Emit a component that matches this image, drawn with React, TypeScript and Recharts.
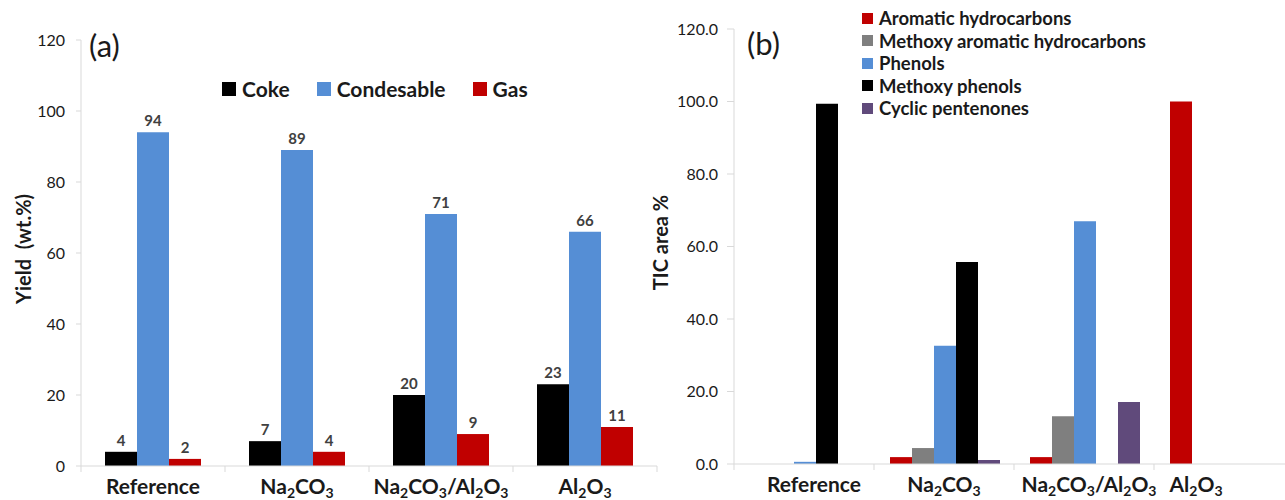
import { Bar, BarChart, LabelList, Legend, XAxis, YAxis } from "recharts";

const catalysts = ["Reference", "Na2CO3", "Na2CO3/Al2O3", "Al2O3"];

// (a) product yields, wt.%
const coke = [4, 7, 20, 23];
const condensable = [94, 89, 71, 66];
const gas = [2, 4, 9, 11];
const yieldTicks = [0, 20, 40, 60, 80, 100, 120];

// (b) TIC area %
const aromatic = [0, 1.9, 1.9, 100];
const methoxyAromatic = [0, 4.4, 13.2, 0];
const phenols = [0.6, 32.6, 67.0, 0];
const methoxyPhenols = [99.4, 55.7, 0, 0];
const cyclicPentenones = [0, 1.1, 17.1, 0];
const ticTicks = [0, 20, 40, 60, 80, 100, 120];

const FONT = "Lato, 'Open Sans', sans-serif";
const AXIS = "#d9d9d9";
const INK = "#1a1a1a";

const yieldSeries = [
  { key: "coke", name: "Coke", color: "#000000" },
  { key: "condensable", name: "Condesable", color: "#558ed5" },
  { key: "gas", name: "Gas", color: "#c00000" },
];

const ticSeries = [
  { key: "aromatic", name: "Aromatic hydrocarbons", color: "#c00000" },
  { key: "methoxyAromatic", name: "Methoxy aromatic hydrocarbons", color: "#7f7f7f" },
  { key: "phenols", name: "Phenols", color: "#558ed5" },
  { key: "methoxyPhenols", name: "Methoxy phenols", color: "#000000" },
  { key: "cyclicPentenones", name: "Cyclic pentenones", color: "#604a7b" },
];

const yieldRows = catalysts.map((c, i) => ({
  catalyst: c,
  coke: coke[i],
  condensable: condensable[i],
  gas: gas[i],
}));

const ticRows = catalysts.map((c, i) => ({
  catalyst: c,
  aromatic: aromatic[i],
  methoxyAromatic: methoxyAromatic[i],
  phenols: phenols[i],
  methoxyPhenols: methoxyPhenols[i],
  cyclicPentenones: cyclicPentenones[i],
}));

// chemical formula with subscript digits
function formulaParts(text: string) {
  let sub = false;
  return text
    .split(/(\d)/)
    .filter(Boolean)
    .map((part, i) => {
      const digit = /\d/.test(part);
      let dy = 0;
      if (digit && !sub) dy = 4;
      if (!digit && sub) dy = -4;
      sub = digit;
      return (
        <tspan key={i} dy={dy} fontSize={digit ? 14 : undefined}>
          {part}
        </tspan>
      );
    });
}

function CategoryTick(props: any) {
  const { x, y, payload, index, shifts, band, count } = props;
  const dx = shifts ? shifts[index] ?? 0 : 0;
  const half = band / 2;
  return (
    <g>
      <line x1={x - half} x2={x - half} y1={y} y2={y + 6} stroke={AXIS} />
      {index === count - 1 && (
        <line x1={x + half} x2={x + half} y1={y} y2={y + 6} stroke={AXIS} />
      )}
      <text
        x={x + dx}
        y={y + 28}
        textAnchor="middle"
        fontSize={21}
        fontWeight={700}
        fill={INK}
        fontFamily={FONT}
      >
        {formulaParts(payload.value)}
      </text>
    </g>
  );
}

function axisTitle(text: string, dx: number) {
  return (p: any) => {
    const vb = p.viewBox;
    const cx = vb.x + dx;
    const cy = vb.y + vb.height / 2 - 4;
    return (
      <text
        x={cx}
        y={cy}
        transform={`rotate(-90 ${cx} ${cy})`}
        textAnchor="middle"
        dominantBaseline="central"
        fontSize={20}
        fontWeight={700}
        fill={INK}
        fontFamily={FONT}
        style={{ whiteSpace: "pre" }}
      >
        {text}
      </text>
    );
  };
}

function YieldLegend() {
  return (
    <div style={{ display: "flex", fontFamily: FONT, fontSize: 21, fontWeight: 700, color: INK, lineHeight: "26px" }}>
      {yieldSeries.map((s) => (
        <div key={s.key} style={{ display: "flex", alignItems: "center", marginRight: 27 }}>
          <span style={{ width: 14, height: 14, background: s.color, marginRight: 6 }} />
          {s.name}
        </div>
      ))}
    </div>
  );
}

function TicLegend() {
  return (
    <div style={{ fontFamily: FONT, fontSize: 18.5, fontWeight: 700, color: INK, lineHeight: "22.5px" }}>
      {ticSeries.map((s) => (
        <div key={s.key} style={{ display: "flex", alignItems: "center" }}>
          <span style={{ width: 11, height: 11, background: s.color, marginRight: 6 }} />
          {s.name}
        </div>
      ))}
    </div>
  );
}

const panelTag = {
  position: "absolute" as const,
  fontFamily: FONT,
  fontSize: 31,
  color: INK,
  lineHeight: 1,
};

export default function App() {
  return (
    <div
      style={{
        position: "absolute",
        left: 0,
        top: 0,
        width: 1285,
        height: 500,
        overflow: "hidden",
        background: "#fff",
      }}
    >
      <div style={{ position: "absolute", left: 0, top: 0 }}>
        <BarChart
          width={660}
          height={500}
          data={yieldRows}
          margin={{ top: 40, right: 3, bottom: 0, left: 0 }}
          barCategoryGap={24}
          barGap={0}
        >
          <XAxis
            dataKey="catalyst"
            height={34}
            axisLine={{ stroke: AXIS }}
            tickLine={false}
            tickSize={0}
            tickMargin={0}
            interval={0}
            tick={<CategoryTick band={144} count={catalysts.length} />}
          />
          <YAxis
            width={81}
            domain={[0, 120]}
            ticks={yieldTicks}
            interval={0}
            axisLine={{ stroke: AXIS }}
            tickLine={{ stroke: AXIS }}
            tickSize={5}
            tickMargin={11}
            tick={{ fontSize: 16, fill: INK, fontFamily: FONT }}
            label={axisTitle("Yield  (wt.%)", 23)}
          />
          <Legend
            verticalAlign="middle"
            align="center"
            content={<YieldLegend />}
            wrapperStyle={{ top: 76, left: 222, width: "auto" }}
          />
          {yieldSeries.map((s) => (
            <Bar key={s.key} dataKey={s.key} name={s.name} fill={s.color} isAnimationActive={false}>
              <LabelList
                dataKey={s.key}
                position="top"
                offset={6}
                fontSize={15}
                fontWeight={700}
                fill="#404040"
                fontFamily={FONT}
              />
            </Bar>
          ))}
        </BarChart>
        <div style={{ ...panelTag, left: 89, top: 30 }}>(a)</div>
      </div>

      <div style={{ position: "absolute", left: 640, top: 0 }}>
        <BarChart
          width={660}
          height={500}
          data={ticRows}
          margin={{ top: 29, right: 6, bottom: 0, left: 0 }}
          barCategoryGap={16}
          barGap={0}
        >
          <XAxis
            dataKey="catalyst"
            height={36}
            axisLine={{ stroke: AXIS }}
            tickLine={false}
            tickSize={0}
            tickMargin={0}
            interval={0}
            tick={<CategoryTick band={140} count={catalysts.length} shifts={[10, 0, 5, -28]} />}
          />
          <YAxis
            width={94}
            domain={[0, 120]}
            ticks={ticTicks}
            interval={0}
            axisLine={{ stroke: AXIS }}
            tickLine={{ stroke: AXIS }}
            tickSize={7}
            tickMargin={9}
            tickFormatter={(v: number) => v.toFixed(1)}
            tick={{ fontSize: 16, fill: INK, fontFamily: FONT }}
            label={axisTitle("TIC area %", 20)}
          />
          <Legend
            verticalAlign="middle"
            align="center"
            content={<TicLegend />}
            wrapperStyle={{ top: 7, left: 222, width: "auto" }}
          />
          {ticSeries.map((s) => (
            <Bar key={s.key} dataKey={s.key} name={s.name} fill={s.color} isAnimationActive={false} />
          ))}
        </BarChart>
        <div style={{ ...panelTag, left: 107, top: 28 }}>(b)</div>
      </div>
    </div>
  );
}
